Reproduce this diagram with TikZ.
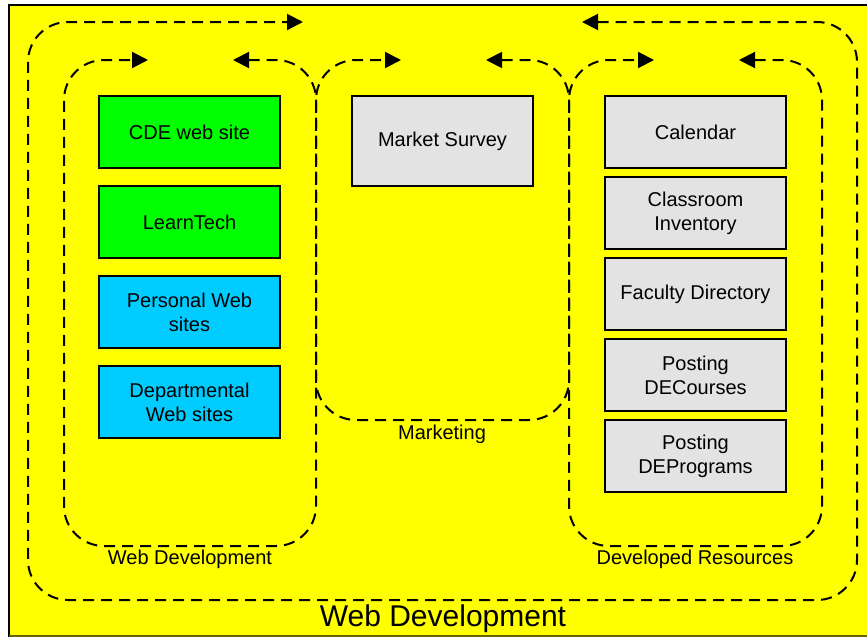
\documentclass[tikz,border=0pt]{standalone}
\usepackage{fontspec}
\setmainfont{Liberation Sans}
\usetikzlibrary{arrows.meta}
\definecolor{bgyellow}{HTML}{FFFF00}
\definecolor{boxgreen}{HTML}{00FF00}
\definecolor{boxcyan}{HTML}{00CCFF}
\definecolor{boxgray}{HTML}{E3E3E3}
\begin{document}
\begin{tikzpicture}[x=1pt,y=-1pt,
  itembox/.style={draw=black,line width=1.6pt,minimum width=181pt,minimum height=72pt,
    inner sep=0pt,align=center,font=\fontsize{20}{24}\selectfont},
  loop/.style={line width=2pt,dash pattern=on 11pt off 7pt,rounded corners=40pt,
    {Triangle[length=16pt,width=16pt]}-{Triangle[length=16pt,width=16pt]}},
  lab/.style={font=\fontsize{20}{24}\selectfont,inner sep=0pt}]
\useasboundingbox (0,0) rectangle (867,637);
% background
\fill[bgyellow] (9,5) rectangle (867,637);
\draw[black,line width=1.5pt] (9,637) -- (9,5) -- (867,5);
\draw[black!60!bgyellow,line width=1.5pt] (9,636) -- (867,636);
% boxes left
\node[itembox,fill=boxgreen] (cde) at (189.5,132) {CDE web site};
\node[itembox,fill=boxgreen] (lt) at (189.5,222) {LearnTech};
\node[itembox,fill=boxcyan] (pws) at (189.5,312) {Personal Web\\sites};
\node[itembox,fill=boxcyan] (dws) at (189.5,402) {Departmental\\Web sites};
% middle
\node[itembox,fill=boxgray,minimum height=90pt] (ms) at (442.5,141) {Market Survey};
% right
\node[itembox,fill=boxgray] (cal) at (695.5,132) {Calendar};
\node[itembox,fill=boxgray] (ci) at (695.5,213) {Classroom\\Inventory};
\node[itembox,fill=boxgray] (fd) at (695.5,294) {Faculty Directory};
\node[itembox,fill=boxgray] (pdc) at (695.5,375) {Posting\\DECourses};
\node[itembox,fill=boxgray] (pdp) at (695.5,456) {Posting\\DEPrograms};
% outer loop
\coordinate (oa) at (582,22);
\coordinate (ob) at (303,22);
\draw[loop] (oa) -- (857,22) -- (857,600) -- (28,600) -- (28,22) -- (ob);
% left loop
\coordinate (la) at (233,60);
\coordinate (lb) at (148,60);
\draw[loop] (la) -- (316,60) -- (316,546) -- (64,546) -- (64,60) -- (lb);
% middle loop
\coordinate (ma) at (486,60);
\coordinate (mb) at (401,60);
\draw[loop] (ma) -- (569,60) -- (569,420) -- (316,420) -- (316,60) -- (mb);
% right loop
\coordinate (ra) at (739,60);
\coordinate (rb) at (654,60);
\draw[loop] (ra) -- (822,60) -- (822,546) -- (569,546) -- (569,60) -- (rb);
% labels
\node[lab] (l1) at (190,559) {Web Development};
\node[lab] (l2) at (442,434) {Marketing};
\node[lab] (l3) at (695,559) {Developed Resources};
\node[font=\fontsize{30}{34}\selectfont,inner sep=0pt] (l4) at (443,619) {Web Development};
\end{tikzpicture}
\end{document}
